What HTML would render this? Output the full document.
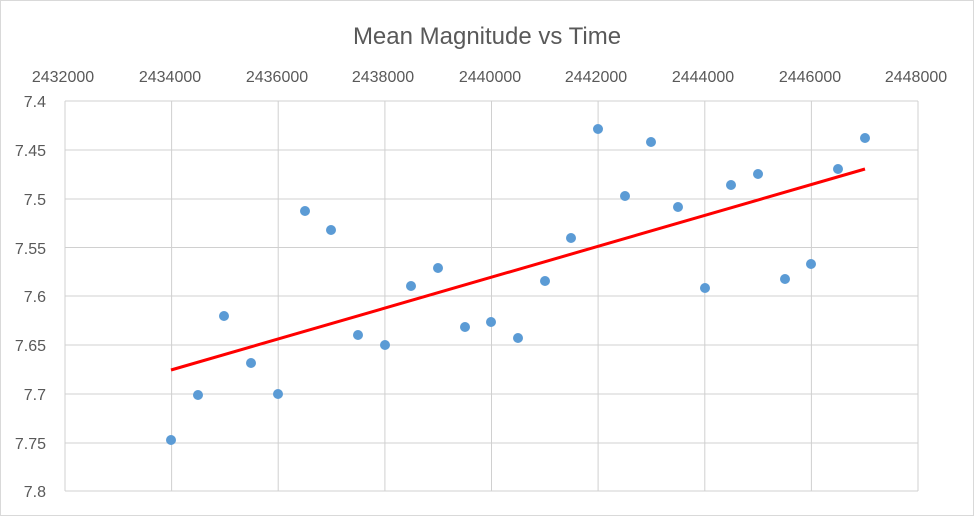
<!DOCTYPE html>
<html><head><meta charset="utf-8"><style>
body{margin:0;background:#fff}
svg text{font-family:"Liberation Sans",sans-serif;fill:#595959}
</style></head><body>
<svg width="974" height="516" xmlns="http://www.w3.org/2000/svg">
<rect x="0.5" y="0.5" width="973" height="515" fill="#fff" stroke="#d9d9d9"/>
<text x="487" y="44" font-size="24" text-anchor="middle">Mean Magnitude vs Time</text>
<g stroke="#d0d0d0" stroke-width="1">
<line x1="65" y1="101" x2="918" y2="101"/>
<line x1="65" y1="150" x2="918" y2="150"/>
<line x1="65" y1="199" x2="918" y2="199"/>
<line x1="65" y1="247.5" x2="918" y2="247.5"/>
<line x1="65" y1="296" x2="918" y2="296"/>
<line x1="65" y1="345" x2="918" y2="345"/>
<line x1="65" y1="394" x2="918" y2="394"/>
<line x1="65" y1="443" x2="918" y2="443"/>
<line x1="65" y1="491" x2="918" y2="491"/>
<line x1="65" y1="101" x2="65" y2="491"/>
<line x1="171.6" y1="101" x2="171.6" y2="491"/>
<line x1="278.2" y1="101" x2="278.2" y2="491"/>
<line x1="384.9" y1="101" x2="384.9" y2="491"/>
<line x1="491.5" y1="101" x2="491.5" y2="491"/>
<line x1="598.1" y1="101" x2="598.1" y2="491"/>
<line x1="704.8" y1="101" x2="704.8" y2="491"/>
<line x1="811.4" y1="101" x2="811.4" y2="491"/>
<line x1="918" y1="101" x2="918" y2="491"/>
</g>
<g font-size="16" text-anchor="middle">
<text x="63" y="82">2432000</text><text x="170" y="82">2434000</text><text x="277" y="82">2436000</text>
<text x="383" y="82">2438000</text><text x="490" y="82">2440000</text><text x="596" y="82">2442000</text>
<text x="703" y="82">2444000</text><text x="810" y="82">2446000</text><text x="916" y="82">2448000</text>
</g>
<g font-size="16" text-anchor="end">
<text x="46" y="107">7.4</text><text x="46" y="156">7.45</text><text x="46" y="205">7.5</text>
<text x="46" y="254">7.55</text><text x="46" y="302">7.6</text><text x="46" y="351">7.65</text>
<text x="46" y="400">7.7</text><text x="46" y="449">7.75</text><text x="46" y="497">7.8</text>
</g>
<g fill="#5b9bd5">
<circle cx="171" cy="440" r="5"/><circle cx="198" cy="395" r="5"/><circle cx="224" cy="316" r="5"/>
<circle cx="251" cy="363" r="5"/><circle cx="278" cy="394" r="5"/><circle cx="305" cy="211" r="5"/>
<circle cx="331" cy="230" r="5"/><circle cx="358" cy="335" r="5"/><circle cx="385" cy="345" r="5"/>
<circle cx="411" cy="286" r="5"/><circle cx="438" cy="268" r="5"/><circle cx="465" cy="327" r="5"/>
<circle cx="491" cy="322" r="5"/><circle cx="518" cy="338" r="5"/><circle cx="545" cy="281" r="5"/>
<circle cx="571" cy="238" r="5"/><circle cx="598" cy="129" r="5"/><circle cx="625" cy="196" r="5"/>
<circle cx="651" cy="142" r="5"/><circle cx="678" cy="207" r="5"/><circle cx="705" cy="288" r="5"/>
<circle cx="731" cy="185" r="5"/><circle cx="758" cy="174" r="5"/><circle cx="785" cy="279" r="5"/>
<circle cx="811" cy="264" r="5"/><circle cx="838" cy="169" r="5"/><circle cx="865" cy="138" r="5"/>
</g>
<line x1="171" y1="370" x2="865" y2="169" stroke="#ff0000" stroke-width="3"/>
</svg>
</body></html>
